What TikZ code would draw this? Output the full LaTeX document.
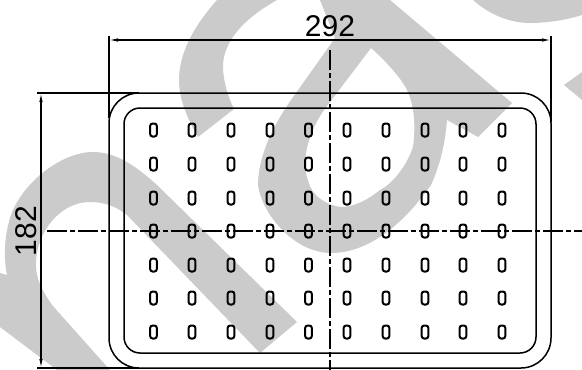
\documentclass[tikz,border=0pt]{standalone}
\usepackage{fontspec}
\setmainfont{Liberation Sans}
\usetikzlibrary{arrows.meta,positioning,calc}
\definecolor{markgray}{HTML}{CBCBCB}

\begin{document}
\begin{tikzpicture}[
    x=1pt, y=-1pt,
    stamp/.style={fill=markgray, draw=none},
    body/.style={draw=black, line width=1.5pt},
    slot/.style={draw=black, line width=2pt, rounded corners=2.5pt, minimum width=6.7pt, minimum height=13pt, inner sep=0pt},
    extline/.style={draw=black, line width=1.2pt},
    dimline/.style={{Latex[length=9pt,width=3.5pt]}-{Latex[length=9pt,width=3.5pt]}, draw=black, line width=1.2pt},
    axis/.style={draw=black, line width=1.6pt, dash pattern=on 20pt off 3pt on 5pt off 3pt},
    dimtext/.style={font=\fontsize{30}{30}\selectfont, inner sep=0pt, text=black}
  ]
    \useasboundingbox (0,0) rectangle (582,370);

    % Watermark
    \fill[stamp] (217,0) .. controls (192,28) and (179,55) .. (179,80) .. controls (179,100) and (188,120) .. (198,137) -- (234,109) .. controls (226,92) and (223,78) .. (223,65) .. controls (224,40) and (245,18) .. (277,0) -- cycle;
    \fill[stamp, even odd rule] (320,0) -- (335,38) -- (291,100) .. controls (270,130) and (258,160) .. (258,185) .. controls (262,215) and (295,253) .. (331,253) .. controls (370,253) and (405,222) .. (431,185) .. controls (440,165) and (445,145) .. (447,120) -- (478,137) -- (512,103) -- (390,0) -- cycle
      (371,48) .. controls (390,65) and (402,80) .. (407,90) .. controls (414,105) and (416,125) .. (413,147) .. controls (405,170) and (390,185) .. (380,190) .. controls (365,202) and (352,207) .. (341,207) .. controls (325,205) and (311,195) .. (308,180) .. controls (300,160) and (310,130) .. (324,110) -- cycle;
    \fill[stamp] (93,152) .. controls (60,152) and (20,185) .. (10,218) .. controls (5,235) and (3,255) .. (7,275) -- (0,273) -- (0,327) -- (57,370) -- (110,370) -- (52,305) .. controls (42,290) and (35,278) .. (36,262) .. controls (37,232) and (60,202) .. (90,202) .. controls (105,202) and (117,207) .. (127,215) -- (260,353) -- (297,322) -- (157,185) .. controls (135,165) and (115,152) .. (93,152) -- cycle;
    \fill[stamp] (473,0) .. controls (490,15) and (510,23) .. (530,23) .. controls (550,23) and (570,19) .. (582,15) -- (582,0) -- cycle;
    \fill[stamp] (564,85) -- (582,72) -- (582,100) -- cycle;

    % Bodies
    \draw[body, rounded corners=30pt] (109,93) rectangle (551,368);
    \draw[body, rounded corners=16pt] (124,108) rectangle (536,353);

    % Slots
    \foreach \col/\xpos in {1/153.5,2/192,3/231,4/270,5/308.5,6/347,7/386,8/425,9/463,10/502}
      \foreach \row/\ypos in {1/130,2/164,3/198,4/231,5/265,6/298,7/332}
        \node[slot] (slot-\row-\col) at (\xpos,\ypos) {};

    % Center lines
    \coordinate (axisTop) at (330,50);
    \coordinate (axisBottom) at (330,370);
    \coordinate (axisLeft) at (47,231);
    \coordinate (axisRight) at (582,231);
    \draw[axis] (axisTop) -- (axisBottom);
    \draw[axis] (axisLeft) -- (axisRight);

    % Dimensions
    \coordinate (widthLeft) at (109,40);
    \coordinate (widthRight) at (551,40);
    \coordinate (heightTop) at (41,93);
    \coordinate (heightBottom) at (41,368);
    \draw[extline] (109,36) -- (109,118);
    \draw[extline] (551,36) -- (551,122);
    \draw[extline] (37,93) -- (139,93);
    \draw[extline] (37,368) -- (139,368);
    \draw[dimline] (widthLeft) -- (widthRight);
    \draw[dimline] (heightTop) -- (heightBottom);
    \node[dimtext, anchor=base] (widthLabel) at (330,36) {292};
    \node[dimtext, anchor=base, rotate=90] (heightLabel) at (37,231) {182};
  \end{tikzpicture}
\end{document}
